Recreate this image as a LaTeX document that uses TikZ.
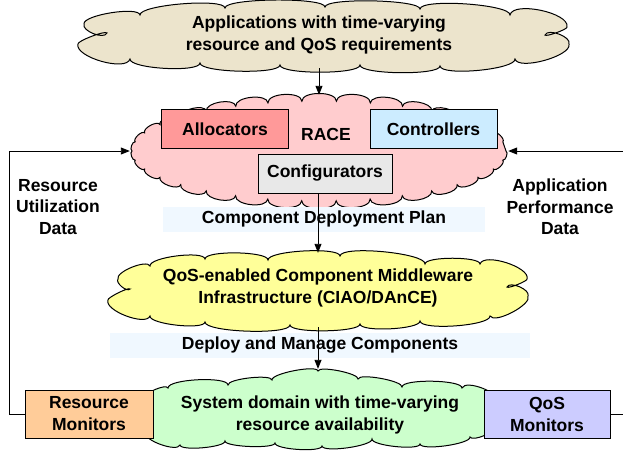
\documentclass[tikz,border=0pt]{standalone}
\usepackage{fontspec}
\setmainfont{Liberation Sans}
\usetikzlibrary{arrows.meta,calc}
\definecolor{tanc}{RGB}{236,228,204}
\definecolor{pinkc}{RGB}{255,204,206}
\definecolor{allocc}{RGB}{255,153,153}
\definecolor{ctrlc}{RGB}{204,236,255}
\definecolor{cfgc}{RGB}{232,232,232}
\definecolor{yellowc}{RGB}{255,255,153}
\definecolor{greenc}{RGB}{204,255,204}
\definecolor{rmc}{RGB}{255,204,153}
\definecolor{qmc}{RGB}{204,204,255}
\definecolor{stripc}{RGB}{240,248,255}
% cloud through cusp points: #1 options, #2 start x, #3 start y, #4 list x/y/bulge
\newcommand{\cuspcloud}[4]{%
  \path[#1] (#2,#3) \foreach \x/\y/\f [remember=\x as \px (initially #2), remember=\y as \py (initially #3)] in {#4} {
    .. controls ($(\px,\py)!\f!90:(\x,\y)$) and ($(\x,\y)!\f!-90:(\px,\py)$) .. (\x,\y) } -- cycle;%
}
\begin{document}
\begin{tikzpicture}[x=1pt,y=-1pt,
  every node/.style={font=\fontsize{17.5}{22}\selectfont\bfseries, align=center},
  cloudline/.style={draw=black, line width=1pt},
  cloudarea/.style={inner sep=0pt},
  boxst/.style={draw=black, line width=0.8pt, inner sep=0pt},
  strip/.style={fill=stripc, inner sep=0pt},
  arr/.style={draw=black, line width=0.9pt, -{Triangle[length=9pt,width=7pt]}}]
\useasboundingbox (0,0) rectangle (623,451);
% top cloud
\cuspcloud{cloudline, fill=tanc}{84}{24}{140/15/0.16, 225/8/0.12, 325/7/0.1, 420/9/0.1, 510/15/0.12, 567/27/0.25, 545/35/0.1, 569/44/0.3, 515/59/0.22, 440/66/0.14, 360/65/0.12, 280/65/0.12, 200/63/0.12, 130/59/0.14, 78/44/0.25, 107/33/0.1, 84/24/0.3}
\node[cloudarea, minimum width=491pt, minimum height=64pt] (app) at (323.5,36) {};
\node (apptext) at (319,35) {Applications with time-varying\\resource and QoS requirements};
% RACE cloud
\begin{scope}[shift={(319,151)}]
\path[cloudline, fill=pinkc] (0:187 and 50) \foreach \t [remember=\t as \pt (initially 0)] in {10.59,21.18,...,360} {
  .. controls ($(\pt:187 and 50)!0.3!90:(\t:187 and 50)$) and ($(\t:187 and 50)!0.3!-90:(\pt:187 and 50)$) .. (\t:187 and 50) } -- cycle;
\end{scope}
\node[cloudarea, minimum width=378pt, minimum height=112pt] (race) at (319,151) {};
\node (racet) at (326,134) {RACE};
\node[boxst, fill=allocc, minimum width=127pt, minimum height=39pt] (alloc) at (225,129) {Allocators};
\node[boxst, fill=ctrlc, minimum width=127pt, minimum height=39pt] (ctrl) at (433.5,129) {Controllers};
\node[boxst, fill=cfgc, minimum width=134pt, minimum height=39pt] (cfg) at (325,173.5) {Configurators};
\node[strip, minimum width=322pt, minimum height=25pt] (cdp) at (324,219) {Component Deployment Plan};
% middleware cloud
\cuspcloud{cloudline, fill=yellowc}{118}{279}{150/266/0.22, 205/259/0.16, 268/260/0.14, 340/256/0.13, 425/264/0.13, 480/264/0.14, 527/279/0.25, 507/287/0.1, 528/296/0.3, 490/316/0.22, 420/321/0.14, 360/324/0.14, 290/325/0.12, 205/322/0.12, 150/316/0.15, 108/300/0.25, 130/289/0.1, 118/279/0.3}
\node[cloudarea, minimum width=420pt, minimum height=74pt] (mw) at (318,290) {};
\node (mwt) at (318,288) {QoS-enabled Component Middleware\\Infrastructure (CIAO/DAnCE)};
\node[strip, minimum width=420pt, minimum height=25pt] (dmc) at (320,345) {Deploy and Manage Components};
% system domain cloud
\cuspcloud{cloudline, fill=greenc}{145}{398}{168/388/0.2, 228/385/0.15, 272/380/0.14, 318/371/0.14, 358/379/0.14, 402/387/0.14, 462/388/0.14, 498/402/0.25, 496/426/0.25, 470/437/0.2, 420/444/0.14, 372/439/0.14, 322/446/0.14, 275/443/0.14, 225/441/0.12, 180/445/0.14, 146/433/0.22, 145/398/0.25}
\node[cloudarea, minimum width=370pt, minimum height=84pt] (sys) at (320,411) {};
\node (syst) at (320,415) {System domain with time-varying\\resource availability};
\node[boxst, fill=rmc, minimum width=128pt, minimum height=48pt] (rm) at (89,414) {Resource\\Monitors};
\node[boxst, fill=qmc, minimum width=126pt, minimum height=48pt] (qm) at (547,414) {QoS\\Monitors};
\node[font=\fontsize{17.5}{21.5}\selectfont\bfseries] (rud) at (58,207) {Resource\\Utilization\\Data};
\node[font=\fontsize{17.5}{21.5}\selectfont\bfseries] (apd) at (560,207) {Application\\Performance\\Data};
% connectors
\draw[arr] (app.south -| race.north) -- (race.north);
\draw[arr] (cfg.south -| mw.north) -- (mw.north);
\draw[arr] (mw.south) -- (sys.north -| mw.south);
\coordinate (lb) at (9,414);
\coordinate (lt) at (9,151);
\draw[arr] (rm.west) -- (lb) -- (lt) -- (race.west);
\coordinate (rb) at (627,414);
\coordinate (rt) at (627,151);
\draw[arr] (qm.east) -- (rb) -- (rt) -- (race.east);
\end{tikzpicture}
\end{document}
